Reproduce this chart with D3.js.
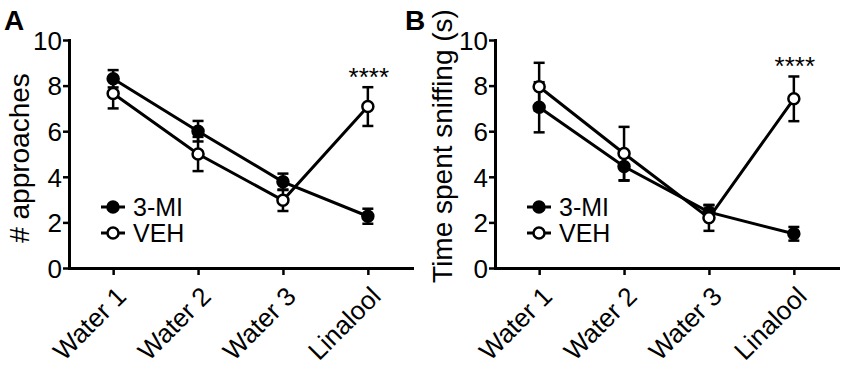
<!DOCTYPE html>
<html>
<head>
<meta charset="utf-8">
<script src="https://cdn.jsdelivr.net/npm/d3@7"></script>
<style>
  body { margin: 0; background: #fff; }
  svg { display: block; }
</style>
</head>
<body>
<div class="chart"></div>
<script>
// categories and values (mean +/- error)
var categories = ["Water 1", "Water 2", "Water 3", "Linalool"];
var yTicks = [0, 2, 4, 6, 8, 10];
var seriesNames = ["3-MI", "VEH"];

var approachesMI = [8.3, 6.0, 3.78, 2.27];
var approachesMIErr = [0.38, 0.45, 0.36, 0.33];
var approachesVEH = [7.65, 5.0, 2.97, 7.08];
var approachesVEHErr = [0.65, 0.75, 0.47, 0.85];

var sniffMI = [7.05, 4.45, 2.45, 1.5];
var sniffMIErr = [1.1, 0.62, 0.3, 0.3];
var sniffVEH = [7.95, 5.02, 2.2, 7.42];
var sniffVEHErr = [1.05, 1.17, 0.57, 0.98];

var starText = "****";
var starCategory = "Linalool";

var width = 850, height = 373;
var font = "Arial, 'Liberation Sans', Helvetica, sans-serif";

var svg = d3.select("div.chart")
    .append("svg")
    .attr("width", width)
    .attr("height", height);

function drawPanel(opts) {
    var axisX = opts.left;
    var top = 40, bottom = 268;

    var x = d3.scalePoint()
        .domain(categories)
        .range([axisX, axisX + 343])
        .padding(0.52);
    var y = d3.scaleLinear()
        .domain([0, 10])
        .range([bottom, top]);

    var g = svg.append("g");

    // panel letter
    g.append("text")
        .attr("x", opts.letterX)
        .attr("y", 30)
        .attr("font-family", font)
        .attr("font-weight", "bold")
        .attr("font-size", 28)
        .text(opts.letter);

    // y axis title
    g.append("text")
        .attr("transform", `translate(${opts.titleX},${opts.titleY}) rotate(-90)`)
        .attr("text-anchor", "middle")
        .attr("font-family", font)
        .attr("font-size", 28)
        .text(opts.title);

    // axes
    var yAxis = g.append("g")
        .attr("transform", `translate(${axisX},0)`)
        .call(d3.axisLeft(y).tickValues(yTicks).tickSize(6).tickSizeOuter(0).tickPadding(1));
    var xAxis = g.append("g")
        .attr("transform", `translate(0,${bottom})`)
        .call(d3.axisBottom(x).tickSize(7).tickSizeOuter(0));

    [yAxis, xAxis].forEach(function (ax) {
        ax.select(".domain").attr("stroke-width", 3).attr("stroke-linecap", "square");
        ax.selectAll(".tick line").attr("stroke-width", 2.5);
        ax.selectAll("text")
            .attr("font-family", font)
            .attr("font-size", 26)
            .attr("fill", "#000");
    });
    yAxis.selectAll("text").attr("dy", "0.36em");

    xAxis.selectAll(".tick text")
        .attr("text-anchor", "end")
        .attr("x", 0)
        .attr("y", 0)
        .attr("dy", 0)
        .attr("transform", "translate(14,30) rotate(-45)");

    var series = [
        { name: seriesNames[0], values: opts.mi, errs: opts.miErr, fill: "#000" },
        { name: seriesNames[1], values: opts.veh, errs: opts.vehErr, fill: "#fff" }
    ];

    var line = d3.line()
        .x(function (d, i) { return x(categories[i]); })
        .y(function (d) { return y(d); });

    series.forEach(function (s) {
        var pts = s.values.map(function (v, i) {
            return { cat: categories[i], v: v, e: s.errs[i] };
        });
        // error bars
        var eb = g.append("g").attr("stroke", "#000").attr("stroke-width", 2.5);
        eb.selectAll("line.stem")
            .data(pts)
            .join("line")
            .attr("class", "stem")
            .attr("x1", d => x(d.cat))
            .attr("x2", d => x(d.cat))
            .attr("y1", d => y(d.v - d.e))
            .attr("y2", d => y(d.v + d.e));
        eb.selectAll("line.capTop")
            .data(pts)
            .join("line")
            .attr("class", "capTop")
            .attr("x1", d => x(d.cat) - 5.5)
            .attr("x2", d => x(d.cat) + 5.5)
            .attr("y1", d => y(d.v + d.e))
            .attr("y2", d => y(d.v + d.e));
        eb.selectAll("line.capBot")
            .data(pts)
            .join("line")
            .attr("class", "capBot")
            .attr("x1", d => x(d.cat) - 5.5)
            .attr("x2", d => x(d.cat) + 5.5)
            .attr("y1", d => y(d.v - d.e))
            .attr("y2", d => y(d.v - d.e));

        g.append("path")
            .datum(s.values)
            .attr("fill", "none")
            .attr("stroke", "#000")
            .attr("stroke-width", 3)
            .attr("d", line);
    });

    series.forEach(function (s) {
        g.append("g")
            .selectAll("circle")
            .data(s.values)
            .join("circle")
            .attr("cx", (d, i) => x(categories[i]))
            .attr("cy", d => y(d))
            .attr("r", 5.5)
            .attr("fill", s.fill)
            .attr("stroke", "#000")
            .attr("stroke-width", 2.5);
    });

    // significance stars above the VEH error bar
    var si = categories.indexOf(starCategory);
    g.append("text")
        .attr("x", x(starCategory) + 1)
        .attr("y", y(opts.veh[si] + opts.vehErr[si]) - 1)
        .attr("text-anchor", "middle")
        .attr("font-family", font)
        .attr("font-size", 26)
        .text(starText);

    // legend
    var legend = g.append("g")
        .selectAll("g")
        .data(series)
        .join("g")
        .attr("transform", (d, i) => `translate(${axisX + 44},${207 + 26 * i})`);
    legend.append("line")
        .attr("x1", -12).attr("x2", 12)
        .attr("stroke", "#000").attr("stroke-width", 3);
    legend.append("circle")
        .attr("r", 5.5)
        .attr("fill", d => d.fill)
        .attr("stroke", "#000")
        .attr("stroke-width", 2.5);
    legend.append("text")
        .attr("x", 20)
        .attr("y", 9)
        .attr("font-family", font)
        .attr("font-size", 25)
        .text(d => d.name);
}

drawPanel({
    left: 69, letter: "A", letterX: 4, title: "# approaches", titleX: 29, titleY: 158,
    mi: approachesMI, miErr: approachesMIErr, veh: approachesVEH, vehErr: approachesVEHErr
});
drawPanel({
    left: 495, letter: "B", letterX: 405, title: "Time spent sniffing (s)", titleX: 452, titleY: 146,
    mi: sniffMI, miErr: sniffMIErr, veh: sniffVEH, vehErr: sniffVEHErr
});
</script>
</body>
</html>
